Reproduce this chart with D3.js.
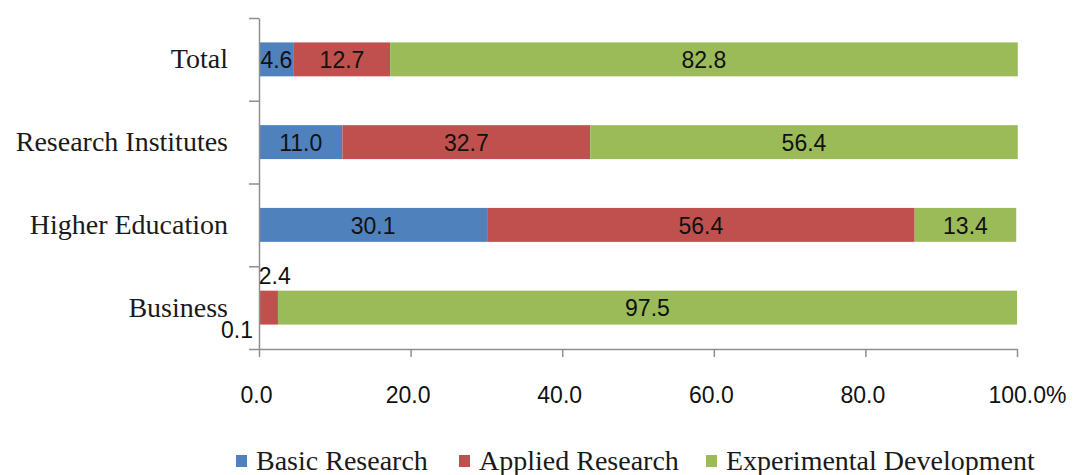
<!DOCTYPE html>
<html>
<head>
<meta charset="utf-8">
<script src="https://cdn.jsdelivr.net/npm/d3@7/dist/d3.min.js"></script>
<style>
  html, body { margin: 0; padding: 0; background: #ffffff; }
  svg { display: block; }
</style>
</head>
<body>
<svg id="chart" width="1073" height="475"></svg>
<script>
// R&D expenditure by type of activity, share of each sector (%)
const categories = ["Total", "Research Institutes", "Higher Education", "Business"];
const basicResearch = [4.6, 11.0, 30.1, 0.1];
const appliedResearch = [12.7, 32.7, 56.4, 2.4];
const experimentalDevelopment = [82.8, 56.4, 13.4, 97.5];
const seriesNames = ["Basic Research", "Applied Research", "Experimental Development"];
const seriesColors = ["#4f81bd", "#c0504d", "#9bbb59"];
const xTickValues = [0, 20, 40, 60, 80, 100];
const xTickLabels = ["0.0", "20.0", "40.0", "60.0", "80.0", "100.0%"];

const svg = d3.select("#chart");
const plot = { left: 259, right: 1017, top: 18, bottom: 349 };
const axisColor = "#8f8f8f";
const serif = "'Liberation Serif', 'Times New Roman', serif";
const sans = "'Liberation Sans', Arial, sans-serif";

const x = d3.scaleLinear().domain([0, 100]).range([plot.left, plot.right]);
const y = d3.scaleBand().domain(categories).range([plot.top, plot.bottom])
  .paddingInner(0.59).paddingOuter(0.295);
// band boundaries carry the category tick marks
const yEdge = d3.scaleLinear().domain([0, categories.length]).range([plot.top, plot.bottom]);

// stacked rows
const rows = categories.map((c, i) => ({
  category: c,
  "Basic Research": basicResearch[i],
  "Applied Research": appliedResearch[i],
  "Experimental Development": experimentalDevelopment[i]
}));
const stacked = d3.stack().keys(seriesNames)(rows);

const bars = svg.append("g");
stacked.forEach((layer, si) => {
  bars.selectAll(null).data(layer).enter().append("rect")
    .attr("x", d => x(d[0]))
    .attr("y", d => y(d.data.category))
    .attr("width", d => Math.max(0, x(d[1]) - x(d[0])))
    .attr("height", y.bandwidth())
    .attr("fill", seriesColors[si]);
});

// y axis with ticks at band edges
const yAxis = svg.append("g")
  .attr("transform", `translate(${plot.left},0)`)
  .call(d3.axisLeft(yEdge).tickValues(d3.range(categories.length + 1))
    .tickSize(10).tickSizeOuter(0).tickFormat(""));
yAxis.select(".domain").attr("stroke", axisColor).attr("stroke-width", 1.5);
yAxis.selectAll(".tick line").attr("stroke", axisColor).attr("stroke-width", 1.5);

// x axis
const xAxis = svg.append("g")
  .attr("transform", `translate(0,${plot.bottom})`)
  .call(d3.axisBottom(x).tickValues(xTickValues).tickSize(8).tickSizeOuter(0)
    .tickPadding(30).tickFormat((d, i) => xTickLabels[i]));
xAxis.select(".domain").attr("stroke", axisColor).attr("stroke-width", 1.5);
xAxis.selectAll(".tick line").attr("stroke", axisColor).attr("stroke-width", 1.5);
xAxis.selectAll(".tick text")
  .attr("font-family", sans).attr("font-size", 23).attr("fill", "#111")
  .attr("dx", (d, i) => i === xTickValues.length - 1 ? 10 : -3);

// category labels
svg.append("g").selectAll("text").data(categories).enter().append("text")
  .attr("x", plot.left - 31)
  .attr("y", d => y(d) + y.bandwidth() / 2)
  .attr("dy", "0.32em")
  .attr("text-anchor", "end")
  .attr("font-family", serif).attr("font-size", 28).attr("fill", "#1a1a1a")
  .text(d => d);

// value labels
const labels = svg.append("g").attr("font-family", sans).attr("font-size", 23).attr("fill", "#111");
stacked.forEach((layer) => {
  layer.forEach(d => {
    const v = d[1] - d[0];
    const w = x(d[1]) - x(d[0]);
    const t = labels.append("text").text(v.toFixed(1));
    const top = y(d.data.category);
    if (w >= 30) {
      t.attr("x", (x(d[0]) + x(d[1])) / 2)
        .attr("y", top + y.bandwidth() / 2)
        .attr("dy", "0.38em")
        .attr("text-anchor", "middle");
    } else if (d[0] === 0) {
      // thin first segment: label below-left of the bar
      t.attr("x", x(0) - 6).attr("y", top + y.bandwidth() + 13).attr("text-anchor", "end");
    } else {
      // thin middle segment: label above the bar
      t.attr("x", x(d[0]) - 1).attr("y", top - 7).attr("text-anchor", "start");
    }
  });
});

// legend
const legendX = [236, 459, 706];
const legend = svg.append("g");
seriesNames.forEach((name, i) => {
  legend.append("rect")
    .attr("x", legendX[i]).attr("y", 455).attr("width", 11).attr("height", 12)
    .attr("fill", seriesColors[i]);
  legend.append("text")
    .attr("x", legendX[i] + 20).attr("y", 470)
    .attr("font-family", serif).attr("font-size", 28).attr("fill", "#1a1a1a")
    .text(name);
});
</script>
</body>
</html>
